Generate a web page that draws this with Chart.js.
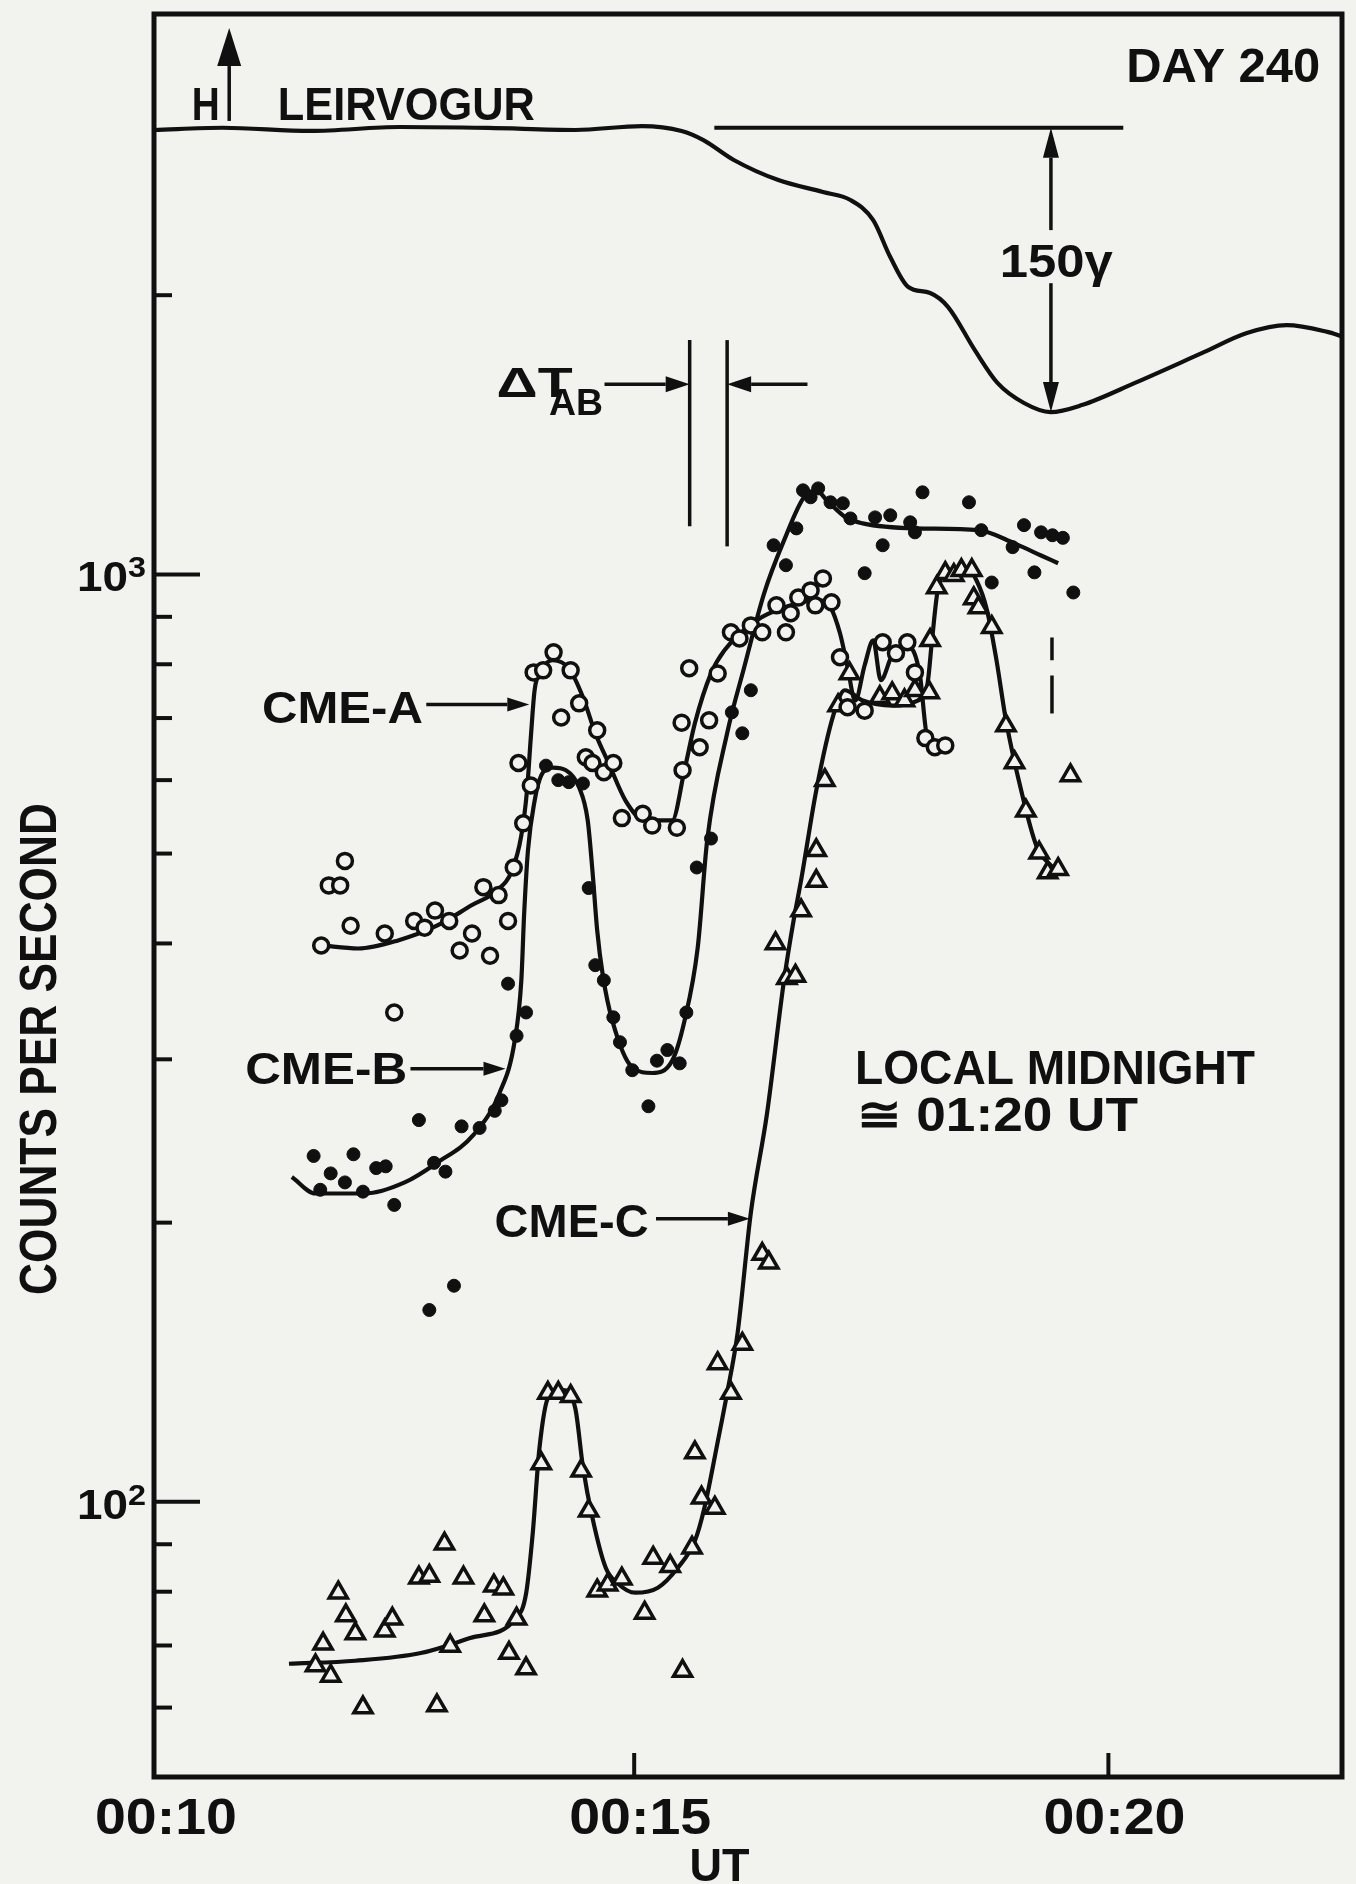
<!DOCTYPE html>
<html lang="en">
<head>
<meta charset="UTF-8">
<title>CME counts - Day 240</title>
<script src="https://cdn.jsdelivr.net/npm/chart.js@4.4.1/dist/chart.umd.min.js"></script>
<style>
  html, body { margin: 0; padding: 0; background: #f2f2ef; }
  #chart { display: block; }
</style>
</head>
<body>
<canvas id="chart" width="1356" height="1884"></canvas>
<script>
// time in minutes after 00:00 UT, counts per second
const cmeA_t = [11.70, 11.78, 11.90, 11.95, 12.01, 12.37, 12.47, 12.68, 12.79, 12.90, 13.05, 13.16, 13.29, 13.41, 13.48, 13.57, 13.67, 13.73, 13.83, 13.91, 13.78, 13.94, 14.04, 14.15, 14.33, 14.23, 14.42, 14.61, 14.49, 14.56, 14.68, 14.78, 14.87, 15.09, 15.19, 15.45, 15.51, 15.50, 15.58, 15.69, 15.79, 15.88, 16.02, 16.11, 16.23, 16.35, 16.50, 16.60, 16.65, 16.73, 16.86, 16.91, 16.99, 17.08, 17.17, 17.25, 17.43, 17.62, 17.76, 17.88, 17.96, 18.07, 18.17, 18.28];
const cmeA_v = [398, 462, 462, 491, 418, 410, 337, 423, 416, 434, 423, 393, 410, 460, 388, 451, 423, 483, 539, 592, 626, 784, 788, 824, 788, 701, 726, 679, 635, 626, 612, 626, 546, 552, 536, 533, 615, 692, 792, 651, 696, 782, 866, 853, 881, 866, 926, 866, 908, 944, 961, 926, 990, 933, 814, 719, 713, 845, 822, 845, 784, 666, 651, 654];

const cmeB_t = [11.62, 12.04, 11.80, 11.95, 11.69, 12.14, 12.28, 12.38, 12.47, 12.73, 12.89, 13.01, 13.18, 13.37, 13.53, 13.60, 13.76, 13.86, 13.67, 12.84, 13.10, 14.07, 14.20, 14.31, 14.46, 14.52, 14.59, 14.68, 14.78, 14.85, 14.98, 15.15, 15.24, 15.35, 15.48, 15.55, 15.66, 15.81, 16.14, 16.03, 16.23, 16.47, 16.60, 16.71, 16.78, 16.94, 16.86, 17.07, 17.20, 17.28, 17.54, 17.70, 17.62, 17.43, 17.91, 17.96, 18.04, 18.53, 18.66, 18.99, 19.11, 19.29, 19.41, 19.52, 19.22, 18.77, 19.63];
const cmeB_v = [236, 237, 226, 221, 217, 216, 229, 230, 209, 258, 232, 227, 254, 253, 264, 271, 318, 337, 362, 161, 171, 622, 600, 597, 595, 459, 379, 365, 333, 313, 292, 267, 299, 307, 297, 337, 483, 519, 674, 710, 750, 1075, 1023, 1121, 1232, 1238, 1211, 1196, 1193, 1149, 1152, 1158, 1075, 1003, 1138, 1110, 1226, 1196, 1116, 1070, 1130, 1110, 1102, 1095, 1005, 980, 956];

const cmeC_t = [11.64, 11.80, 11.72, 11.88, 11.96, 12.06, 12.14, 12.37, 12.45, 12.73, 12.84, 13.00, 12.92, 13.06, 13.20, 13.42, 13.52, 13.62, 13.76, 13.68, 13.86, 14.02, 14.09, 14.20, 14.33, 14.44, 14.52, 14.61, 14.72, 14.87, 15.11, 15.20, 15.38, 15.51, 15.61, 15.64, 15.71, 15.85, 15.88, 16.02, 16.14, 16.35, 16.42, 16.49, 16.61, 16.70, 16.76, 16.92, 16.92, 17.01, 17.15, 17.27, 17.59, 17.72, 17.85, 17.96, 18.11, 18.12, 18.19, 18.28, 18.37, 18.45, 18.56, 18.58, 18.63, 18.77, 18.92, 19.01, 19.13, 19.27, 19.36, 19.47, 19.60];
const cmeC_v = [66.6, 64.9, 70.3, 79.8, 75.4, 72.1, 60.0, 72.6, 74.8, 82.8, 83.2, 90.1, 60.3, 69.9, 82.8, 75.4, 81.2, 80.6, 74.8, 68.7, 66.1, 110, 131, 131, 130, 108, 97.8, 80.2, 81.4, 82.6, 75.9, 87.0, 85.2, 65.7, 89.2, 113, 101, 98.5, 141, 131, 148, 185, 181, 400, 367, 369, 434, 467, 504, 600, 722, 782, 737, 744, 731, 750, 746, 849, 968, 1003, 998, 1010, 1010, 942, 921, 877, 687, 627, 556, 501, 477, 481, 607];

// hand-drawn smooth curves through each set
const fitA_t = [11.70, 12.09, 12.51, 12.92, 13.29, 13.55, 13.71, 13.81, 13.87, 13.91, 13.95, 14.02, 14.14, 14.31, 14.46, 14.59, 14.73, 14.91, 15.11, 15.40, 15.53, 15.64, 15.81, 15.95, 16.29, 16.58, 16.92, 17.07, 17.17, 17.25, 17.33, 17.43, 17.52, 17.60, 17.72, 17.88, 18.01, 18.09, 18.25];
const fitA_v = [398, 395, 403, 418, 440, 456, 479, 523, 585, 667, 750, 788, 808, 792, 737, 674, 626, 570, 543, 543, 615, 691, 782, 828, 892, 921, 938, 921, 864, 794, 731, 798, 849, 769, 818, 838, 782, 667, 646];

const fitB_t = [11.39, 11.64, 12.16, 12.58, 12.92, 13.31, 13.58, 13.74, 13.81, 13.84, 13.88, 13.95, 14.02, 14.14, 14.28, 14.42, 14.51, 14.56, 14.61, 14.67, 14.77, 14.98, 15.19, 15.40, 15.53, 15.67, 15.77, 15.98, 16.16, 16.37, 16.58, 16.79, 16.92, 17.03, 17.23, 17.41, 17.96, 18.63, 19.01, 19.29, 19.47];
const fitB_v = [224, 215, 215, 221, 232, 249, 276, 314, 365, 431, 504, 570, 607, 619, 615, 589, 543, 479, 413, 369, 330, 294, 290, 299, 330, 396, 517, 674, 794, 954, 1088, 1211, 1232, 1202, 1152, 1135, 1121, 1116, 1080, 1048, 1028];

const fitC_t = [11.36, 12.06, 12.75, 13.27, 13.76, 13.86, 13.93, 14.00, 14.10, 14.25, 14.38, 14.46, 14.56, 14.70, 14.83, 15.01, 15.25, 15.46, 15.64, 15.74, 15.88, 15.98, 16.09, 16.23, 16.40, 16.58, 16.68, 16.76, 16.92, 17.10, 17.22, 17.41, 17.72, 17.99, 18.09, 18.14, 18.20, 18.30, 18.51, 18.61, 18.72, 18.82, 18.92, 19.08, 19.24, 19.42];
const fitC_v = [66.9, 67.4, 68.7, 71.3, 75.0, 79.6, 92.4, 114, 130, 132, 126, 109, 96.1, 84.9, 81.6, 79.8, 80.8, 84.9, 90.8, 98.5, 116, 131, 152, 205, 262, 365, 423, 468, 585, 705, 750, 731, 722, 731, 759, 849, 961, 1003, 1015, 985, 915, 808, 696, 585, 510, 482];

// Leirvogur magnetometer H, gamma relative to the quiet level
const hTrace_t = [9.94, 10.66, 11.59, 12.53, 13.46, 14.38, 15.08, 15.50, 15.73, 16.05, 16.52, 16.99, 17.28, 17.52, 17.70, 17.89, 18.12, 18.31, 18.59, 18.83, 19.11, 19.39, 19.72, 20.28, 20.99, 21.46, 21.88, 22.31, 22.46];
const hTrace_g = [-1.2, 0, -1.7, 0.4, -0.1, -1.2, 0.9, -1.7, -6.5, -17.0, -27.6, -33.9, -38.1, -48.7, -68.2, -84.0, -87.2, -94.6, -117.2, -134.6, -145.2, -150, -146.3, -134.6, -118.8, -108.3, -104.1, -107.7, -110];

const xTickVals = [10, 15, 20];
const xTickLabels = ['00:10', '00:15', '00:20'];
const xTickMarks = [15, 20];
const yMajorVals = [100, 1000];
const yMajorExp = ['2', '3'];
const yMinorVals = [60, 70, 80, 90, 200, 300, 400, 500, 600, 700, 800, 900, 2000];

const INK = '#101010';
const PAPER = '#f2f2ef';
const FONT = '"Liberation Sans", Arial, sans-serif';

function pts(ts, vs) {
    return ts.map(function (t, i) { return { x: t, y: vs[i] }; });
}

function fitText(ctx, txt, x, y, size, width, align) {
    ctx.save();
    ctx.font = 'bold ' + size + 'px ' + FONT;
    const w = ctx.measureText(txt).width;
    const sx = width ? width / w : 1;
    let x0 = x;
    if (align === 'center') x0 = x - w * sx / 2;
    if (align === 'right') x0 = x - w * sx;
    ctx.translate(x0, y);
    ctx.scale(sx, 1);
    ctx.textAlign = 'left';
    ctx.textBaseline = 'alphabetic';
    ctx.fillText(txt, 0, 0);
    ctx.restore();
}

function line(ctx, x1, y1, x2, y2) {
    ctx.beginPath();
    ctx.moveTo(x1, y1);
    ctx.lineTo(x2, y2);
    ctx.stroke();
}

function arrow(ctx, x1, y1, x2, y2, len, hw) {
    const a = Math.atan2(y2 - y1, x2 - x1);
    const bx = x2 - len * Math.cos(a), by = y2 - len * Math.sin(a);
    line(ctx, x1, y1, bx, by);
    ctx.beginPath();
    ctx.moveTo(x2, y2);
    ctx.lineTo(bx + hw * Math.sin(a), by - hw * Math.cos(a));
    ctx.lineTo(bx - hw * Math.sin(a), by + hw * Math.cos(a));
    ctx.closePath();
    ctx.fill();
}

const paper = {
    id: 'paper',
    beforeDraw(chart) {
        const ctx = chart.ctx;
        ctx.save();
        ctx.fillStyle = PAPER;
        ctx.fillRect(0, 0, chart.width, chart.height);
        ctx.restore();
    }
};

const decorations = {
    id: 'decorations',
    afterDraw(chart) {
        const ctx = chart.ctx;
        const area = chart.chartArea;
        const X = t => chart.scales.x.getPixelForValue(t);
        const Y = v => chart.scales.y.getPixelForValue(v);
        const H = g => chart.scales.h.getPixelForValue(g);

        ctx.save();
        ctx.strokeStyle = INK;
        ctx.fillStyle = INK;
        ctx.lineCap = 'butt';

        // frame
        ctx.lineWidth = 5;
        ctx.strokeRect(area.left, area.top, area.right - area.left, area.bottom - area.top);

        // y ticks, drawn inward
        ctx.lineWidth = 4;
        yMajorVals.forEach(v => line(ctx, area.left, Y(v), area.left + 46, Y(v)));
        yMinorVals.forEach(v => line(ctx, area.left, Y(v), area.left + 18, Y(v)));
        yMajorVals.forEach((v, i) => {
            fitText(ctx, '10', area.left - 26, Y(v) + 17, 42, 51, 'right');
            fitText(ctx, yMajorExp[i], area.left - 8, Y(v) + 3, 29, 18, 'right');
        });

        // x ticks, drawn inward
        xTickMarks.forEach(t => line(ctx, X(t), area.bottom, X(t), area.bottom - 24));
        xTickVals.forEach((t, i) => fitText(ctx, xTickLabels[i], X(t) + 6, 1834, 50, 142, 'center'));
        fitText(ctx, 'UT', X(15.9), 1881, 47, 60, 'center');

        // y title
        ctx.save();
        ctx.translate(56, 1049);
        ctx.rotate(-Math.PI / 2);
        fitText(ctx, 'COUNTS PER SECOND', 0, 0, 52, 492, 'center');
        ctx.restore();

        // magnetometer labels
        ctx.lineWidth = 3.5;
        arrow(ctx, X(10.73), H(3.6), X(10.73), H(52.6), 38, 12);
        fitText(ctx, 'H', X(10.334), H(4.1), 46, 28);
        fitText(ctx, 'LEIRVOGUR', X(11.242), H(4.1), 46, 257);
        fitText(ctx, 'DAY 240', X(20.188), H(24.1), 49, 194);

        // 150 gamma scale
        ctx.lineWidth = 4;
        line(ctx, X(15.845), H(0), X(20.157), H(0));
        ctx.lineWidth = 3.5;
        arrow(ctx, X(19.394), H(-54), X(19.394), H(0), 30, 8);
        arrow(ctx, X(19.394), H(-82), X(19.394), H(-150), 30, 8);
        fitText(ctx, '150\u03b3', X(19.45), H(-78.7), 47, 113, 'center');

        // delta T AB
        ctx.lineWidth = 3.5;
        line(ctx, X(15.585), Y(1789), X(15.585), Y(1127));
        line(ctx, X(15.98), Y(1789), X(15.98), Y(1072));
        arrow(ctx, X(14.687), Y(1603), X(15.585), Y(1603), 24, 8);
        arrow(ctx, X(16.827), Y(1603), X(15.98), Y(1603), 24, 8);
        fitText(ctx, '\u0394T', X(13.549), Y(1552), 42, 76);
        fitText(ctx, 'AB', X(14.102), Y(1484), 37, 54);

        // CME labels
        ctx.lineWidth = 3.5;
        fitText(ctx, 'CME-A', X(11.075), Y(692), 44, 161);
        arrow(ctx, X(12.808), Y(724), X(13.894), Y(724), 22, 7);
        fitText(ctx, 'CME-B', X(10.898), Y(282), 44, 162);
        arrow(ctx, X(12.641), Y(293), X(13.643), Y(293), 22, 7);
        fitText(ctx, 'CME-C', X(13.528), Y(193), 46, 154);
        arrow(ctx, X(15.23), Y(202), X(16.22), Y(202), 22, 7);

        fitText(ctx, 'LOCAL MIDNIGHT', X(17.328), Y(282.5), 48, 400);
        fitText(ctx, '\u2245 01:20 UT', X(17.35), Y(251), 48, 281);

        // local midnight marker
        ctx.lineWidth = 3.5;
        line(ctx, X(19.405), Y(855), X(19.405), Y(808));
        line(ctx, X(19.405), Y(778), X(19.405), Y(708));

        ctx.restore();
    }
};

const curve = function (ts, vs, axis) {
    return {
        type: 'line',
        data: pts(ts, vs),
        yAxisID: axis,
        borderColor: INK,
        borderWidth: 4.2,
        pointRadius: 0,
        fill: false,
        showLine: true,
        cubicInterpolationMode: 'monotone',
        order: 2
    };
};

new Chart(document.getElementById('chart'), {
    type: 'scatter',
    data: {
        datasets: [
            {
                label: 'CME-A',
                data: pts(cmeA_t, cmeA_v),
                pointStyle: 'circle',
                pointRadius: 7.5,
                backgroundColor: PAPER,
                borderColor: INK,
                borderWidth: 3.5,
                order: 1
            },
            {
                label: 'CME-B',
                data: pts(cmeB_t, cmeB_v),
                pointStyle: 'circle',
                pointRadius: 6.5,
                backgroundColor: INK,
                borderColor: INK,
                borderWidth: 1,
                order: 1
            },
            {
                label: 'CME-C',
                data: pts(cmeC_t, cmeC_v),
                pointStyle: 'triangle',
                pointRadius: 10.5,
                backgroundColor: PAPER,
                borderColor: INK,
                borderWidth: 3.5,
                order: 1
            },
            curve(fitA_t, fitA_v, 'y'),
            curve(fitB_t, fitB_v, 'y'),
            curve(fitC_t, fitC_v, 'y'),
            curve(hTrace_t, hTrace_g, 'h')
        ]
    },
    options: {
        responsive: false,
        animation: false,
        devicePixelRatio: 1,
        layout: { padding: { left: 154, right: 2, top: 14, bottom: 107 } },
        scales: {
            x: { type: 'linear', min: 9.937, max: 22.463, display: false },
            y: { type: 'logarithmic', min: 50.5, max: 4020, display: false },
            h: { type: 'linear', min: -870, max: 60, display: false, position: 'right' }
        },
        plugins: {
            legend: { display: false },
            tooltip: { enabled: false }
        }
    },
    plugins: [paper, decorations]
});
</script>
</body>
</html>
